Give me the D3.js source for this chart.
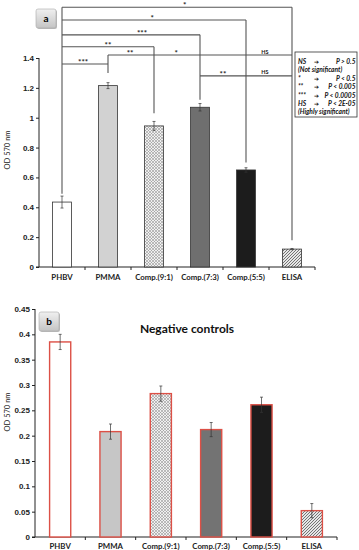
<!DOCTYPE html>
<html>
<head>
<meta charset="utf-8">
<script src="https://cdn.jsdelivr.net/npm/d3@7"></script>
<style>
  body { margin: 0; background: #fff; }
  svg { display: block; font-family: Lato, "Open Sans", sans-serif; }
  .tick text { font-weight: bold; fill: #222; }
</style>
</head>
<body>
<div id="mainDiv"></div>
<script>
'use strict';

// categorias e valores
var categories = ['PHBV', 'PMMA', 'Comp.(9:1)', 'Comp.(7:3)', 'Comp.(5:5)', 'ELISA'];
var valuesA = [0.435, 1.215, 0.945, 1.07, 0.65, 0.12];
var errorsA = [0.04, 0.02, 0.03, 0.025, 0.015, 0.004];
var valuesB = [0.385, 0.208, 0.283, 0.212, 0.261, 0.052];
var errorsB = [0.015, 0.015, 0.015, 0.014, 0.015, 0.014];
var ticksA = [0, 0.2, 0.4, 0.6, 0.8, 1, 1.2, 1.4];
var ticksB = [0, 0.05, 0.1, 0.15, 0.2, 0.25, 0.3, 0.35, 0.4, 0.45];

// barras de significância: de, até, nível (em OD), rótulos (posição em índice)
var brackets = [
  {from: 0, to: 5, level: 1.74,  labels: [[2.67, '*']]},
  {from: 0, to: 4, level: 1.655, labels: [[1.96, '*']]},
  {from: 0, to: 3, level: 1.555, labels: [[1.74, '***']]},
  {from: 0, to: 2, level: 1.475, labels: [[1.0, '**']]},
  {from: 1, to: 5, level: 1.42,  labels: [[1.48, '**'], [2.48, '*'], [4.41, 'HS']]},
  {from: 0, to: 1, level: 1.36,  labels: [[0.46, '***']]},
  {from: 3, to: 5, level: 1.28,  labels: [[3.5, '**'], [4.41, 'HS']]}
];
var dropTops = [1.74, 1.42, 1.475, 1.555, 1.655, 1.74];
var dropBottoms = [0.49, 1.30, 1.03, 1.12, 0.70, 0.18];

var legendLines = [
  ['NS', '\u2794', 'P > 0.5'],
  ['(Not significant)', '', ''],
  ['*', '\u2794', 'P < 0.5'],
  ['**', '\u2794', 'P < 0.005'],
  ['***', '\u2794', 'P < 0.0005'],
  ['HS', '\u2794', 'P < 2E-05'],
  ['(Highly significant)', '', '']
];

var W = 359, H = 550;
var svg = d3.select('#mainDiv').append('svg').attr('width', W).attr('height', H);

// padrões
var defs = svg.append('defs');
var p1 = defs.append('pattern').attr('id', 'dots').attr('patternUnits', 'userSpaceOnUse')
  .attr('width', 3).attr('height', 3);
p1.append('rect').attr('width', 3).attr('height', 3).attr('fill', '#f0f0f0');
p1.append('path').attr('d', 'M0,3 L3,0 M0,0 L3,3').attr('stroke', '#959595').attr('stroke-width', 0.6);
var p2 = defs.append('pattern').attr('id', 'hatch').attr('patternUnits', 'userSpaceOnUse')
  .attr('width', 3).attr('height', 3);
p2.append('rect').attr('width', 3).attr('height', 3).attr('fill', '#e6e6e6');
p2.append('path').attr('d', 'M-1,1 L1,-1 M0,3 L3,0 M2,4 L4,2').attr('stroke', '#555').attr('stroke-width', 0.8);
var gr = defs.append('linearGradient').attr('id', 'boxg').attr('x1', 0).attr('y1', 0).attr('x2', 0).attr('y2', 1);
gr.append('stop').attr('offset', '0%').attr('stop-color', '#f0f0f0');
gr.append('stop').attr('offset', '100%').attr('stop-color', '#c4c4c4');

var fillsA = ['#ffffff', '#d2d2d2', 'url(#dots)', '#6f6f6f', '#1c1c1c', 'url(#hatch)'];
var fillsB = ['#ffffff', '#c6c6c6', 'url(#dots)', '#737373', '#1c1c1c', 'url(#hatch)'];

function labelBox(x, y, txt) {
  svg.append('rect').attr('x', x + 1).attr('y', y + 1).attr('width', 20).attr('height', 19)
    .attr('rx', 2).attr('fill', '#bbb');
  svg.append('rect').attr('x', x).attr('y', y).attr('width', 20).attr('height', 19)
    .attr('rx', 2).attr('fill', 'url(#boxg)').attr('stroke', '#aaa').attr('stroke-width', 0.6);
  svg.append('text').attr('x', x + 10).attr('y', y + 13).attr('text-anchor', 'middle')
    .style('font-size', '10px').style('font-weight', 'bold').text(txt);
}

function drawPanel(cfg) {
  var x = d3.scaleBand().domain(categories).range([cfg.x0, cfg.x1])
    .paddingInner(cfg.pad).paddingOuter(cfg.pad / 2);
  var y = d3.scaleLinear().domain([0, cfg.max]).range([cfg.y0, cfg.yTop]);

  var yAxis = svg.append('g').attr('transform', 'translate(' + cfg.x0 + ',0)')
    .call(d3.axisLeft(y).tickValues(cfg.ticks).tickSize(3).tickFormat(function(d){ return String(+d.toFixed(2)); }));
  yAxis.select('.domain').attr('stroke', '#222').attr('d', 'M0,' + cfg.y0 + 'V' + cfg.yTop);
  yAxis.selectAll('.tick line').attr('stroke', '#222');
  yAxis.selectAll('.tick text').style('font-size', '8px').attr('x', -5);

  // eixo x
  var g = svg.append('g');
  g.append('line').attr('x1', cfg.x0 - 3).attr('x2', cfg.x1).attr('y1', cfg.y0).attr('y2', cfg.y0)
    .attr('stroke', '#222');
  var seps = d3.range(categories.length).map(function(i){ return x(categories[i]) + x.bandwidth() + x.step() * cfg.pad / 2; });
  g.selectAll('.sep').data(seps).enter().append('line')
    .attr('x1', function(d){ return d; }).attr('x2', function(d){ return d; })
    .attr('y1', cfg.y0).attr('y2', cfg.y0 + 3).attr('stroke', '#222');
  g.selectAll('.cat').data(categories).enter().append('text')
    .attr('x', function(d){ return x(d) + x.bandwidth() / 2; })
    .attr('y', cfg.y0 + cfg.labDy).attr('text-anchor', 'middle')
    .style('font-size', '7.8px').style('font-weight', 'bold').attr('fill', '#222')
    .text(function(d){ return d; });

  // barras
  svg.selectAll(null).data(cfg.values).enter().append('rect')
    .attr('x', function(d, i){ return x(categories[i]); })
    .attr('y', function(d){ return y(d); })
    .attr('width', x.bandwidth())
    .attr('height', function(d){ return cfg.y0 - y(d); })
    .attr('fill', function(d, i){ return cfg.fills[i]; })
    .attr('stroke', cfg.stroke).attr('stroke-width', cfg.sw);

  // barras de erro
  var eg = svg.append('g').attr('stroke', '#333').attr('stroke-width', 0.7);
  cfg.values.forEach(function(v, i) {
    var cx = x(categories[i]) + x.bandwidth() / 2, e = cfg.errors[i];
    eg.append('line').attr('x1', cx).attr('x2', cx).attr('y1', y(v - e)).attr('y2', y(v + e));
    eg.append('line').attr('x1', cx - 1.5).attr('x2', cx + 1.5).attr('y1', y(v - e)).attr('y2', y(v - e));
    eg.append('line').attr('x1', cx - 1.5).attr('x2', cx + 1.5).attr('y1', y(v + e)).attr('y2', y(v + e));
  });

  // título do eixo y
  svg.append('text').attr('transform', 'translate(' + cfg.titleX + ',' + cfg.titleY + ') rotate(-90)')
    .attr('text-anchor', 'middle').style('font-size', '7.5px').attr('fill', '#222').text('OD 570 nm');

  return {x: x, y: y};
}

// painel a
var A = drawPanel({x0: 39, x1: 315, y0: 267, yTop: 58, max: 1.4, ticks: ticksA, pad: 0.59,
  values: valuesA, errors: errorsA, fills: fillsA, stroke: '#333', sw: 0.8, labDy: 13,
  titleX: 10, titleY: 150});

var cx = d3.scaleLinear().domain([0, 5]).range([
  A.x(categories[0]) + A.x.bandwidth() / 2, A.x(categories[5]) + A.x.bandwidth() / 2]);
var bg = svg.append('g').attr('stroke', '#555').attr('stroke-width', 1.1);
brackets.forEach(function(b) {
  bg.append('line').attr('x1', cx(b.from)).attr('x2', cx(b.to))
    .attr('y1', A.y(b.level)).attr('y2', A.y(b.level));
});
dropTops.forEach(function(t, i) {
  bg.append('line').attr('x1', cx(i)).attr('x2', cx(i))
    .attr('y1', A.y(t)).attr('y2', A.y(dropBottoms[i]));
});
brackets.forEach(function(b) {
  b.labels.forEach(function(l) {
    var hs = l[1] === 'HS';
    svg.append('text').attr('x', cx(l[0])).attr('y', A.y(b.level) + (hs ? -1.5 : 1))
      .attr('text-anchor', 'middle').style('font-weight', 'bold')
      .style('font-size', hs ? '5.5px' : '8px').attr('fill', '#222').text(l[1]);
  });
});

labelBox(36, 9, 'a');

// legenda
svg.append('rect').attr('x', 295).attr('y', 52).attr('width', 62).attr('height', 65)
  .attr('fill', '#fff').attr('stroke', '#333').attr('stroke-width', 0.8);
var lg = svg.append('g').style('font-size', '6.6px').style('font-weight', 'bold').style('font-style', 'italic')
  .attr('fill', '#111');
legendLines.forEach(function(l, i) {
  var yy = 64 + i * 8.4;
  lg.append('text').attr('x', 298).attr('y', yy).text(l[0]);
  if (l[1]) {
    lg.append('text').attr('x', 314).attr('y', yy).style('font-style', 'normal')
      .style('font-family', '"DejaVu Sans"').style('font-size', '6px').text(l[1]);
    lg.append('text').attr('x', 355.5).attr('y', yy).attr('text-anchor', 'end').text(l[2]);
  }
});

// painel b
drawPanel({x0: 35, x1: 337, y0: 537, yTop: 309, max: 0.45, ticks: ticksB, pad: 0.58,
  values: valuesB, errors: errorsB, fills: fillsB, stroke: '#dc5046', sw: 1.4, labDy: 12,
  titleX: 10, titleY: 412});

labelBox(39, 312, 'b');

svg.append('text').attr('x', 187).attr('y', 333).attr('text-anchor', 'middle')
  .style('font-size', '12px').style('font-weight', 'bold').attr('fill', '#111').text('Negative controls');
</script>
</body>
</html>
